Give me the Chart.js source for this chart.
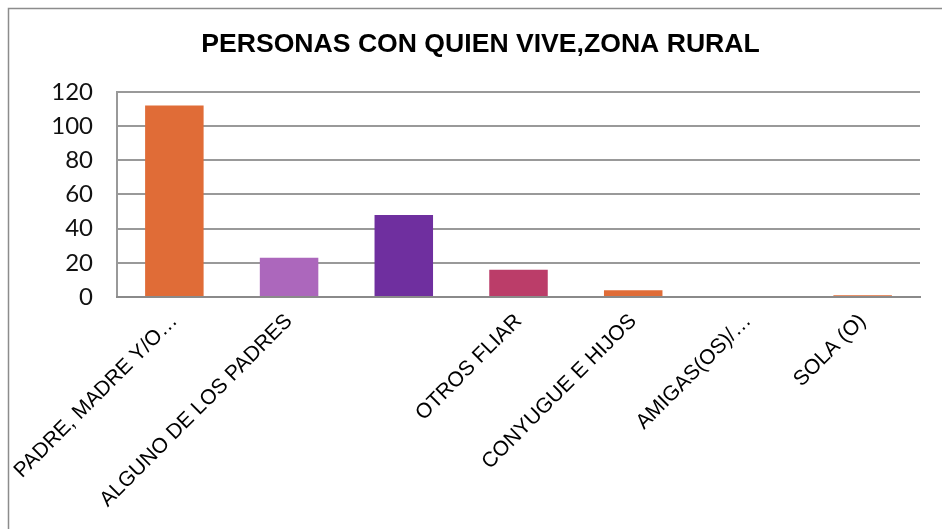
<!DOCTYPE html>
<html lang="es">
<head>
    <meta charset="UTF-8">
    <title>Personas con quien vive, zona rural</title>
    <script src="https://cdn.jsdelivr.net/npm/chart.js"></script>
    <style>
        html, body {
            margin: 0;
            padding: 0;
            background: #fff;
            overflow: hidden;
        }
        #wrap {
            position: relative;
            width: 942px;
            height: 529px;
        }
    </style>
</head>
<body>
    <div id="wrap">
        <canvas id="chart" width="942" height="529"></canvas>
    </div>

    <script>
        // data
        const categories = [
            'PADRE, MADRE Y/O\u2026',
            'ALGUNO DE LOS PADRES',
            '',
            'OTROS FLIAR',
            'CONYUGUE E HIJOS',
            'AMIGAS(OS)/\u2026',
            'SOLA (O)'
        ];
        const personas = [112, 23, 48, 16, 4, 0, 1];
        const barColors = ['#E06C37', '#AC67BC', '#6F2F9F', '#BB3D69', '#E06C37', '#E06C37', '#E06C37'];
        const yTicks = [0, 20, 40, 60, 80, 100, 120];

        // outer frame of the chart box (only left and top edges are in view)
        const framePlugin = {
            id: 'frame',
            beforeDraw(chart) {
                const ctx = chart.ctx;
                ctx.save();
                ctx.strokeStyle = '#8c8c8c';
                ctx.lineWidth = 1.5;
                ctx.strokeRect(8.5, 8.5, 1200, 800);
                ctx.restore();
            }
        };

        const ctx = document.getElementById('chart').getContext('2d');
        new Chart(ctx, {
            type: 'bar',
            data: {
                labels: categories,
                datasets: [{
                    label: 'Personas',
                    data: personas,
                    backgroundColor: barColors,
                    borderWidth: 0,
                    barPercentage: 0.51,
                    categoryPercentage: 1.0
                }]
            },
            options: {
                responsive: false,
                animation: false,
                layout: {
                    padding: { left: 41, right: 22, top: 0, bottom: 0 }
                },
                plugins: {
                    legend: { display: false },
                    tooltip: { enabled: false },
                    title: {
                        display: true,
                        text: 'PERSONAS CON QUIEN VIVE,ZONA RURAL',
                        color: '#000',
                        font: { family: "'Liberation Sans', Arial, sans-serif", size: 26.6, weight: 'bold' },
                        padding: { top: 29, bottom: 31 }
                    }
                },
                scales: {
                    y: {
                        min: 0,
                        max: 120,
                        afterBuildTicks(scale) {
                            scale.ticks = yTicks.map(v => ({ value: v }));
                        },
                        afterFit(scale) {
                            scale.width = 76;
                        },
                        grid: {
                            color: '#999',
                            lineWidth: 2,
                            drawTicks: false
                        },
                        border: { display: true, color: '#999', width: 2 },
                        ticks: {
                            color: '#111',
                            padding: 24,
                            font: { family: 'Lato, sans-serif', size: 24 }
                        }
                    },
                    x: {
                        afterFit(scale) {
                            scale.height = 232;
                            // let the long rotated labels run past the axis start
                            scale.paddingLeft = 0;
                            scale.paddingRight = 0;
                        },
                        grid: { display: false, drawTicks: false },
                        border: { display: true, color: '#8a8a8a', width: 2 },
                        ticks: {
                            color: '#000',
                            autoSkip: false,
                            maxRotation: 45,
                            minRotation: 45,
                            padding: 12,
                            font: { family: "'Liberation Sans', Arial, sans-serif", size: 21 }
                        }
                    }
                }
            },
            plugins: [framePlugin]
        });
    </script>
</body>
</html>
